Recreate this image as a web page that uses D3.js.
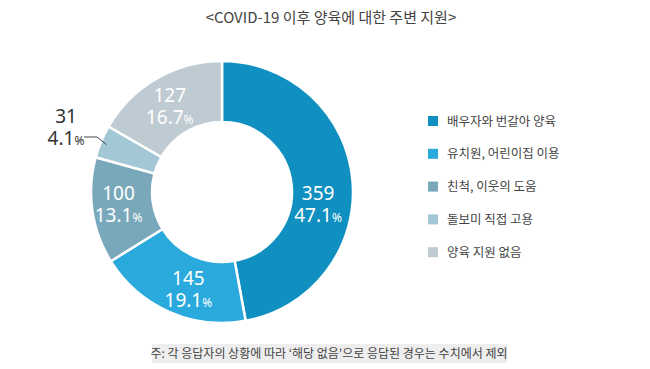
<!DOCTYPE html>
<html>
<head>
<meta charset="utf-8">
<script src="https://cdn.jsdelivr.net/npm/d3@7"></script>
<style>
  body { margin: 0; background: #fff; }
  svg { font-family: "Noto Sans CJK KR", "Noto Sans", sans-serif; }
</style>
</head>
<body>
<script>
// data
var categories = ["배우자와 번갈아 양육", "유치원, 어린이집 이용", "친척, 이웃의 도움", "돌보미 직접 고용", "양육 지원 없음"];
var counts     = [359, 145, 100, 31, 127];
var percents   = ["47.1", "19.1", "13.1", "4.1", "16.7"];
var colors     = ["#1090c0", "#2aaadc", "#7aa8bb", "#a4c7d5", "#bfcbd2"];

var title    = "<COVID-19 이후 양육에 대한 주변 지원>";
var footnote = "주: 각 응답자의 상황에 따라 ‘해당 없음’으로 응답된 경우는 수치에서 제외";

var width = 650, height = 369;
var cx = 222, cy = 192, outerR = 131, innerR = 70;

var svg = d3.select("body").append("svg")
    .attr("width", width)
    .attr("height", height);

// title
svg.append("text")
   .attr("x", 331).attr("y", 23)
   .attr("text-anchor", "middle")
   .style("font-size", "15px")
   .style("fill", "#444")
   .text(title);

// donut
var pie = d3.pie().sort(null).value(function(d) { return d; });
var arc = d3.arc().innerRadius(innerR).outerRadius(outerR);
var arcs = pie(counts);

var g = svg.append("g").attr("transform", "translate(" + cx + "," + cy + ")");

g.selectAll("path").data(arcs).enter().append("path")
   .attr("d", arc)
   .attr("fill", function(d, i) { return colors[i]; })
   .attr("stroke", "#fff")
   .attr("stroke-width", 2.5);

// labels inside slices (centroid on mid radius, small manual nudges)
var labelArc = d3.arc().innerRadius(innerR).outerRadius(outerR);
var nudge = [[-4, 19], [7, 3], [-4, -4], [0, 0], [-2, -1]];

arcs.forEach(function(d, i) {
    if (i === 3) return; // small slice labelled outside
    var c = labelArc.centroid(d);
    var x = c[0] + nudge[i][0], y = c[1] + nudge[i][1];
    var t = g.append("text")
       .attr("text-anchor", "middle")
       .style("fill", "#fff")
       .style("font-family", "'Noto Sans', sans-serif")
       .style("font-size", "19px");
    t.append("tspan").attr("x", x).attr("y", y - 2).text(counts[i]);
    var t2 = t.append("tspan").attr("x", x).attr("y", y + 20);
    t2.append("tspan").text(percents[i]);
    t2.append("tspan").style("font-size", "12px").text("%");
});

// small slice label with leader line
var outer = svg.append("g");
var lbl = outer.append("text")
   .attr("text-anchor", "middle")
   .style("fill", "#333")
   .style("font-family", "'Noto Sans', sans-serif")
   .style("font-size", "19px");
lbl.append("tspan").attr("x", 66).attr("y", 123).text(counts[3]);
var l2 = lbl.append("tspan").attr("x", 66).attr("y", 145);
l2.append("tspan").text(percents[3]);
l2.append("tspan").style("font-size", "12px").text("%");

var edge = d3.arc().innerRadius(outerR - 8).outerRadius(outerR - 8).centroid(arcs[3]);
outer.append("path")
   .attr("d", "M84,137 L97,137 L" + (cx + edge[0] - 2) + "," + (cy + edge[1]))
   .attr("fill", "none")
   .attr("stroke", "#444")
   .attr("stroke-width", 1);

// legend
var legend = svg.append("g").attr("transform", "translate(428,121)");
var row = legend.selectAll("g").data(categories).enter().append("g")
   .attr("transform", function(d, i) { return "translate(0," + (i * 32.8) + ")"; });
row.append("rect")
   .attr("x", 0).attr("y", -5)
   .attr("width", 10).attr("height", 10)
   .attr("fill", function(d, i) { return colors[i]; });
row.append("text")
   .attr("x", 19).attr("y", 0)
   .attr("dy", "0.36em")
   .style("font-size", "12.5px")
   .style("fill", "#444")
   .text(function(d) { return d; });

// footnote
svg.append("rect")
   .attr("x", 152).attr("y", 344)
   .attr("width", 355).attr("height", 19)
   .attr("fill", "#eeeeee");
svg.append("text")
   .attr("x", 329).attr("y", 354)
   .attr("dy", "0.36em")
   .attr("text-anchor", "middle")
   .style("font-size", "12px")
   .style("fill", "#444")
   .text(footnote);
</script>
</body>
</html>
